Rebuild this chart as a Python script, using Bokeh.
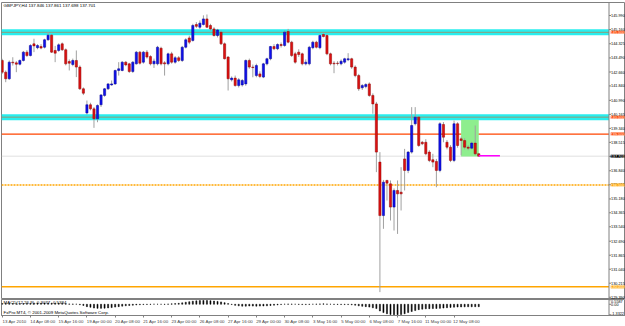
from bokeh.plotting import figure
from bokeh.layouts import column
from bokeh.models import Range1d, FixedTicker, Span, Label, ColumnDataSource
from bokeh.core.properties import value
from bokeh.embed import file_html
from bokeh.resources import INLINE

# ---------------- data (GBPJPY, H4 bars, 13 Apr 2010 .. 13 May 2010) ----------------
opens = [143.34, 142.65, 142.26, 143.24, 143.20, 143.12, 143.34, 143.83, 143.63, 144.32,
         144.09, 144.16, 144.12, 144.56, 144.83, 143.93, 143.93, 144.32, 143.97, 143.28,
         143.10, 143.34, 142.95, 141.67, 140.25, 140.73, 140.49, 139.90, 140.73, 141.28,
         141.67, 141.90, 141.96, 142.75, 142.75, 143.24, 143.14, 142.69, 143.14, 143.83,
         143.24, 143.83, 143.57, 143.14, 143.14, 144.06, 143.20, 143.14, 143.73, 143.24,
         143.50, 143.34, 144.12, 144.67, 144.52, 145.46, 145.30, 145.46, 145.79, 145.40,
         145.20, 144.81, 145.00, 144.32, 143.54, 142.20, 142.30, 141.86, 141.90, 141.96,
         143.34, 142.95, 142.45, 142.55, 142.36, 143.14, 143.44, 144.16, 144.03, 144.28,
         144.22, 145.05, 144.42, 143.73, 143.83, 143.73, 143.14, 143.14, 144.09, 144.42,
         144.09, 144.87, 144.81, 143.73, 143.18, 143.18, 143.14, 143.24, 143.38, 143.44,
         142.95, 142.45, 141.73, 141.80, 141.96, 141.28, 140.78, 137.35, 134.20, 136.27,
         136.07, 134.70, 135.68, 135.58, 137.54, 136.86, 137.94, 139.61, 140.00, 138.52,
         138.52, 137.94, 137.49, 137.39, 136.86, 139.57, 138.52, 138.23, 137.45, 139.61,
         138.72, 138.62, 138.23, 138.17, 138.47, 137.846]
highs = [143.44, 142.75, 143.34, 143.53, 143.30, 143.40, 143.90, 143.95, 144.30, 144.62,
         144.30, 144.30, 144.62, 145.01, 144.90, 144.20, 144.35, 144.40, 144.05, 143.40,
         143.45, 143.93, 143.05, 141.75, 140.98, 140.85, 140.60, 140.75, 141.35, 141.72,
         142.00, 142.16, 142.80, 143.24, 143.30, 143.30, 143.20, 143.30, 143.90, 143.90,
         143.90, 143.95, 143.65, 143.45, 144.20, 144.15, 143.30, 143.80, 143.85, 143.60,
         143.60, 144.20, 144.65, 144.80, 145.50, 145.60, 145.70, 146.00, 146.05, 145.50,
         145.30, 145.20, 145.10, 144.40, 143.60, 142.40, 142.45, 142.30, 142.25, 143.40,
         143.45, 143.10, 143.15, 142.70, 143.20, 143.50, 144.20, 144.30, 144.35, 144.40,
         145.10, 145.20, 144.50, 143.85, 144.00, 143.80, 143.40, 144.20, 144.50, 144.50,
         144.90, 144.95, 144.90, 143.80, 143.30, 143.30, 143.40, 143.50, 143.77, 143.50,
         143.05, 142.55, 141.95, 142.00, 142.05, 141.40, 140.90, 137.94, 136.30, 136.31,
         136.27, 135.80, 136.27, 137.05, 138.13, 138.00, 140.59, 140.59, 140.05, 138.60,
         138.70, 138.05, 137.84, 137.54, 139.70, 139.71, 138.65, 138.35, 139.80, 139.70,
         138.85, 138.75, 138.35, 138.55, 139.51, 137.861]
lows = [142.55, 142.06, 142.20, 143.04, 142.65, 143.05, 143.28, 143.55, 143.58, 143.83,
        144.00, 144.00, 144.05, 144.50, 143.78, 143.24, 143.85, 143.90, 143.05, 142.75,
        143.00, 142.36, 141.60, 141.30, 140.15, 140.40, 139.37, 139.70, 140.60, 141.20,
        141.60, 141.85, 141.90, 142.45, 142.70, 143.00, 142.60, 142.60, 143.10, 143.10,
        143.15, 143.45, 143.05, 142.90, 143.05, 143.05, 142.45, 143.05, 143.15, 143.15,
        143.25, 143.25, 144.05, 144.30, 144.45, 145.25, 145.20, 145.40, 145.25, 145.10,
        144.75, 144.70, 144.25, 143.40, 141.57, 142.10, 141.80, 141.75, 141.80, 141.85,
        142.85, 142.35, 142.35, 142.30, 142.30, 143.05, 143.35, 143.95, 143.95, 144.10,
        144.15, 144.35, 143.55, 143.15, 143.55, 143.05, 143.05, 143.05, 144.00, 144.05,
        144.00, 144.70, 143.65, 143.05, 142.59, 143.05, 143.05, 143.15, 143.30, 142.85,
        142.35, 141.55, 141.60, 141.70, 141.20, 140.20, 136.76, 129.69, 133.42, 135.09,
        133.91, 133.32, 133.12, 134.50, 135.68, 136.70, 137.85, 139.51, 138.25, 138.35,
        137.75, 137.35, 137.05, 135.87, 136.75, 138.52, 138.10, 137.35, 137.35, 138.20,
        137.75, 138.10, 138.05, 138.10, 137.75, 137.698]
closes = [142.65, 142.26, 143.24, 143.20, 143.12, 143.34, 143.83, 143.63, 144.22, 144.20,
          144.22, 144.07, 144.56, 144.83, 143.83, 143.77, 144.26, 143.97, 143.14, 143.18,
          143.34, 142.95, 141.67, 141.41, 140.73, 140.49, 139.90, 140.69, 141.31, 141.67,
          141.96, 141.96, 142.75, 142.85, 143.24, 143.08, 142.69, 143.24, 143.83, 143.18,
          143.83, 143.54, 143.14, 143.30, 144.12, 143.14, 143.14, 143.73, 143.24, 143.50,
          143.34, 144.12, 144.56, 144.42, 145.40, 145.35, 145.54, 145.79, 145.30, 145.20,
          144.81, 145.14, 144.32, 143.44, 142.26, 142.30, 141.86, 142.20, 142.16, 143.34,
          142.95, 142.92, 143.04, 142.40, 143.14, 143.44, 144.16, 144.03, 144.28, 144.22,
          145.01, 144.42, 143.63, 143.24, 143.69, 143.14, 143.24, 144.12, 144.42, 144.12,
          144.81, 144.75, 143.73, 143.14, 143.14, 143.16, 143.30, 143.44, 143.44, 142.95,
          142.45, 141.67, 141.86, 141.92, 141.28, 140.78, 137.94, 134.20, 136.17, 136.11,
          134.70, 135.68, 135.48, 135.48, 136.86, 137.94, 139.51, 140.00, 138.33, 138.43,
          137.84, 137.45, 137.35, 136.86, 139.61, 138.82, 138.23, 137.45, 139.61, 138.33,
          138.62, 138.23, 138.17, 138.47, 137.84, 137.701]
macd = [0.10, 0.08, 0.07, 0.08, 0.07, 0.07, 0.08, 0.09, 0.11, 0.13,
        0.14, 0.14, 0.15, 0.17, 0.14, 0.12, 0.12, 0.11, 0.07, 0.04,
        0.03, 0.01, -0.06, -0.15, -0.30, -0.38, -0.48, -0.52, -0.52, -0.50,
        -0.46, -0.42, -0.36, -0.30, -0.24, -0.19, -0.16, -0.12, -0.08, -0.06,
        -0.04, -0.03, -0.02, 0.01, 0.00, -0.01, -0.02, 0.03, 0.05, 0.08,
        0.12, 0.18, 0.26, 0.32, 0.39, 0.43, 0.46, 0.48, 0.47, 0.45,
        0.41, 0.36, 0.30, 0.20, 0.08, -0.04, -0.14, -0.20, -0.24, -0.24,
        -0.22, -0.23, -0.24, -0.23, -0.22, -0.20, -0.16, -0.12, -0.08, -0.04,
        0.01, 0.03, 0.02, 0.00, -0.02, -0.04, -0.04, -0.02, 0.00, 0.02,
        0.04, 0.05, 0.03, 0.00, -0.02, -0.03, -0.04, -0.04, -0.04, -0.07,
        -0.12, -0.20, -0.26, -0.30, -0.36, -0.45, -0.55, -0.85, -1.05, -1.20,
        -1.30, -1.33, -1.32, -1.30, -1.20, -1.05, -0.92, -0.80, -0.68, -0.62,
        -0.58, -0.56, -0.55, -0.54, -0.52, -0.48, -0.44, -0.40, -0.37, -0.35,
        -0.34, -0.33, -0.32, -0.32, -0.31, -0.31]
bars = list(range(len(opens)))

time_label_bars = [0, 8, 16, 24, 32, 40, 48, 56, 64, 72, 80, 88, 96, 104, 112, 120, 128]
time_labels = ["13 Apr 2010", "14 Apr 08:00", "15 Apr 16:00", "19 Apr 00:00", "20 Apr 08:00",
               "21 Apr 16:00", "23 Apr 00:00", "26 Apr 08:00", "27 Apr 16:00", "29 Apr 00:00",
               "30 Apr 08:00", "3 May 16:00", "5 May 00:00", "6 May 08:00", "7 May 16:00",
               "11 May 00:00", "12 May 08:00"]
price_ticks = [145.990, 145.160, 144.325, 143.490, 142.660, 141.840, 140.990, 140.165,
               139.340, 138.515, 137.690, 136.840, 136.015, 135.180, 134.365, 133.540,
               132.690, 131.865, 131.040, 130.215, 129.390]
macd_max, macd_zero, macd_min = 0.5587, 0.0, -1.3322
macd_tick_labels = ["0.5587", "0.00", "-1.3322"]

band_levels = [145.0, 140.0]
level_prices = [145.0, 140.0, 139.0, 137.701, 136.0, 130.0]
level_tags = ["145.000", "140.000", "139.000", "137.701", "136.000", "130.000"]
box_bars = [130, 135]
box_prices = [137.68, 139.84]
ray_bars = [135, 141]
ray_prices = [137.73, 137.73]

header_text = "GBPJPY,H4  137.846 137.861 137.698 137.701"
macd_text = "MACD(12,26,9) -0.3077 -0.5384"
footer_text = "FxPro MT4, \u00a9 2001-2009 MetaQuotes Software Corp."

# ---------------- styles ----------------
FONT = "Liberation Sans"
FS = "4.4px"          # chart texts
FS_SCALE = "3.8px"    # right price-scale texts (must fit in the 17 px strip)
GREY = "#808080"
BULL_FILL, BULL_LINE = "#1010ee", "#000090"
BEAR_FILL, BEAR_LINE = "#dd1111", "#900000"
WICK = "#a0a0a0"
level_line_colors = ["#ff4500", "#ff4500", "#ff4500", "#c0c0c0", "#ffa500", "#ffa500"]
level_line_dash = ["1 1", "1 1", "solid", "1 1", "2 1", "solid"]
level_line_width = [1, 1, 1.2, 1, 1.5, 1.5]
level_tag_bg = ["#ff4500", "#ff4500", "#ff4500", "#000000", "#ffa500", "#ffa500"]

PX0, PXSTEP = 1.7, 3.53          # pixel of bar 0 and pixel step per bar


def px(x_pixel):
    """bar-axis coordinate of a horizontal pixel position"""
    return (x_pixel - PX0) / PXSTEP


AXIS_X = px(608.5)               # price-scale line (MT4 style, right side)
TICK_X1 = px(610.5)
LABEL_X = px(610.6)
TAG_X = px(610.2)
xr = Range1d(px(1), px(625))

# ---------------- main price panel ----------------
p1 = figure(width=625, height=299, x_range=xr, y_range=Range1d(129.255, 146.756),
            output_backend="svg", toolbar_location=None, x_axis_location=None,
            y_axis_location=None, min_border_left=1, min_border_right=0,
            min_border_top=2, min_border_bottom=0)
p1.background_fill_color = "white"
p1.border_fill_color = "white"
p1.outline_line_color = GREY
p1.xgrid.visible = False
p1.ygrid.visible = False

# cyan bands and levels (end at the price scale)
for lv in band_levels:
    p1.segment(x0=[xr.start], y0=[lv], x1=[AXIS_X], y1=[lv], line_color="#28eeee",
               line_width=6)
for lv, c, d, w in zip(level_prices, level_line_colors, level_line_dash, level_line_width):
    p1.segment(x0=[xr.start], y0=[lv], x1=[AXIS_X], y1=[lv], line_color=c,
               line_width=w, line_dash=d)

# rectangle
p1.quad(left=box_bars[0], right=box_bars[1], bottom=box_prices[0], top=box_prices[1],
        fill_color="#8eee8e", line_color="#8eee8e", line_width=0)

# candles
up = [i for i in bars if closes[i] >= opens[i]]
dn = [i for i in bars if closes[i] < opens[i]]
src_up = ColumnDataSource(dict(x=up, o=[opens[i] for i in up], c=[closes[i] for i in up],
                               h=[highs[i] for i in up], l=[lows[i] for i in up]))
src_dn = ColumnDataSource(dict(x=dn, o=[opens[i] for i in dn], c=[closes[i] for i in dn],
                               h=[highs[i] for i in dn], l=[lows[i] for i in dn]))
p1.segment(x0="x", y0="h", x1="x", y1="l", source=src_up, line_color=WICK, line_width=1)
p1.segment(x0="x", y0="h", x1="x", y1="l", source=src_dn, line_color=WICK, line_width=1)
p1.vbar(x="x", top="c", bottom="o", width=0.62, source=src_up,
        fill_color=BULL_FILL, line_color=BULL_LINE, line_width=0.5)
p1.vbar(x="x", top="o", bottom="c", width=0.62, source=src_dn,
        fill_color=BEAR_FILL, line_color=BEAR_LINE, line_width=0.5)

# magenta ray from last bar
p1.line(x=ray_bars, y=ray_prices, line_color="#ff00ff", line_width=1.5)

# price scale on the right
p1.add_layout(Span(location=AXIS_X, dimension="height", line_color=GREY, line_width=1))
p1.segment(x0=[AXIS_X] * len(price_ticks), y0=price_ticks,
           x1=[TICK_X1] * len(price_ticks), y1=price_ticks, line_color=GREY, line_width=1)
p1.text(x=[LABEL_X] * len(price_ticks), y=price_ticks,
        text=["%.3f" % t for t in price_ticks], text_font=value(FONT),
        text_font_size=FS_SCALE, text_color="black", text_baseline="middle",
        text_align="left")
tag_src = ColumnDataSource(dict(x=[TAG_X] * len(level_prices), y=level_prices,
                                t=level_tags, bg=level_tag_bg))
p1.text(x="x", y="y", text="t", source=tag_src, text_font=value(FONT),
        text_font_size=FS_SCALE, text_color="white", text_baseline="middle",
        text_align="left", background_fill_color="bg", padding=0)

p1.add_layout(Label(x=0.4, y=146.56, text=header_text, text_font_size=FS,
                    text_font=FONT, text_color="black", text_baseline="middle"))

# ---------------- MACD panel ----------------
p2 = figure(width=625, height=27, x_range=xr, y_range=Range1d(-1.42, 0.60),
            output_backend="svg", toolbar_location=None, y_axis_location=None,
            x_axis_location="below", min_border_left=1, min_border_right=0,
            min_border_top=0, min_border_bottom=0)
p2.background_fill_color = "white"
p2.border_fill_color = "white"
p2.outline_line_color = GREY
p2.xgrid.visible = False
p2.ygrid.visible = False

p2.vbar(x=bars, top=macd, bottom=0, width=0.3, fill_color="black", line_color="black",
        line_width=0.5)

p2.add_layout(Span(location=AXIS_X, dimension="height", line_color=GREY, line_width=1))
macd_ticks = [macd_max, macd_zero, macd_min]
p2.segment(x0=[AXIS_X] * 3, y0=macd_ticks, x1=[TICK_X1] * 3, y1=macd_ticks,
           line_color=GREY, line_width=1)
p2.text(x=[LABEL_X], y=[macd_max], text=[macd_tick_labels[0]], text_font=value(FONT),
        text_font_size=FS_SCALE, text_color="black", text_baseline="top", text_align="left")
p2.text(x=[LABEL_X], y=[macd_zero], text=[macd_tick_labels[1]], text_font=value(FONT),
        text_font_size=FS_SCALE, text_color="black", text_baseline="middle",
        text_align="left")
p2.text(x=[LABEL_X], y=[macd_min], text=[macd_tick_labels[2]], text_font=value(FONT),
        text_font_size=FS_SCALE, text_color="black", text_baseline="bottom",
        text_align="left")

axx = p2.xaxis[0]
label_pos = [b + 3.5 for b in time_label_bars]
axx.ticker = FixedTicker(ticks=label_pos, minor_ticks=time_label_bars)
axx.major_label_overrides = {pos: s for pos, s in zip(label_pos, time_labels)}
axx.major_label_text_font_size = FS
axx.major_label_text_font = FONT
axx.major_label_standoff = 1
axx.major_tick_out = 0
axx.major_tick_in = 0
axx.minor_tick_out = 2
axx.minor_tick_in = 0
axx.axis_line_color = GREY
axx.minor_tick_line_color = GREY

p2.add_layout(Label(x=0.4, y=0.20, text=macd_text, text_font_size=FS, text_font=FONT,
                    text_color="black", text_baseline="middle"))
p2.add_layout(Label(x=0.4, y=-0.98, text=footer_text, text_font_size=FS, text_font=FONT,
                    text_color="black", text_baseline="middle"))

layout = column(p1, p2, spacing=0)
open("out.html", "w").write(file_html(layout, INLINE))
